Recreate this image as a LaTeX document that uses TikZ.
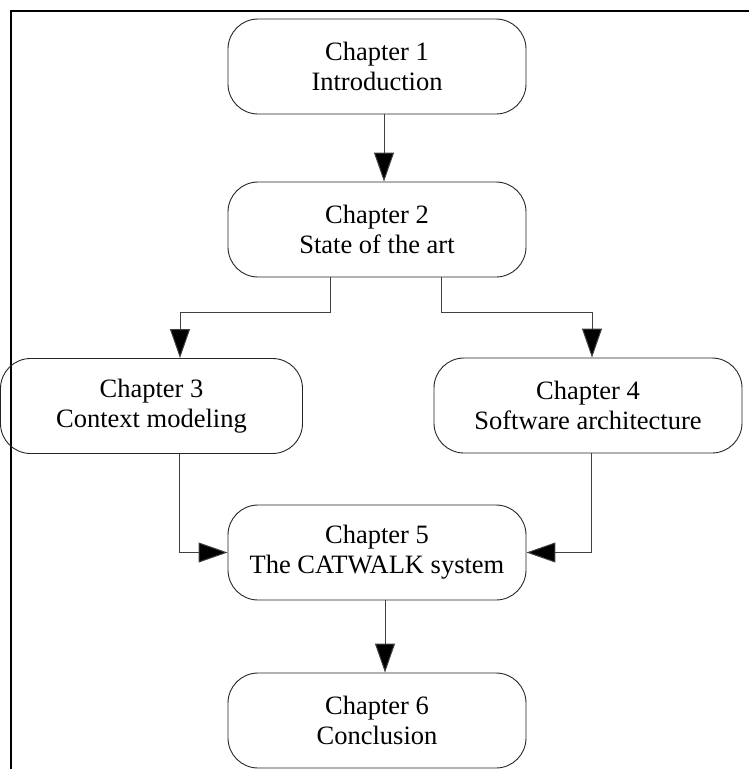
\documentclass[tikz,border=0pt]{standalone}
\usepackage{fontspec}
\setmainfont{Liberation Serif}
\usetikzlibrary{arrows.meta}
\begin{document}
\begin{tikzpicture}[x=1pt,y=-1pt,
  chapbox/.style={draw=black!85, line width=0.9pt, rounded corners=30pt,
    minimum width=298pt, minimum height=95pt, align=center, inner sep=0pt,
    font=\fontsize{26.5}{30}\selectfont},
  link/.style={draw=black!75, line width=1pt,
    -{Triangle[length=29pt,width=20pt,fill=black]}},
  frameline/.style={line width=2.5pt}]
  \useasboundingbox (0,0) rectangle (749,769);

  % outer frame (top and left edges)
  \draw[frameline] (749,11) -- (11,11) -- (11,769);

  % chapters
  \node[chapbox] (c1) at (377,66.5)  {Chapter 1\\Introduction};
  \node[chapbox] (c2) at (377,229.5) {Chapter 2\\State of the art};
  \node[chapbox, minimum width=302pt] (c3) at (151.5,406) {Chapter 3\\Context modeling};
  \node[chapbox, minimum width=308pt] (c4) at (588,405.5) {Chapter 4\\Software architecture};
  \node[chapbox] (c5) at (377,552.5) {Chapter 5\\The CATWALK system};
  \node[chapbox] (c6) at (377,720.5) {Chapter 6\\Conclusion};

  % reading order
  \draw[link] ([xshift=7pt]c1.south) -- ([xshift=7pt]c2.north);
  \draw[link] ([xshift=-47pt]c2.south) -- ++(0,35.5) -| ([xshift=28.5pt]c3.north);
  \draw[link] ([xshift=64pt]c2.south) -- ++(0,35.5) -| ([xshift=4pt]c4.north);
  \draw[link] ([xshift=27.5pt]c3.south) |- (c5.west);
  \draw[link] ([xshift=3pt]c4.south) |- (c5.east);
  \draw[link] ([xshift=8pt]c5.south) -- ([xshift=8pt]c6.north);
\end{tikzpicture}
\end{document}
